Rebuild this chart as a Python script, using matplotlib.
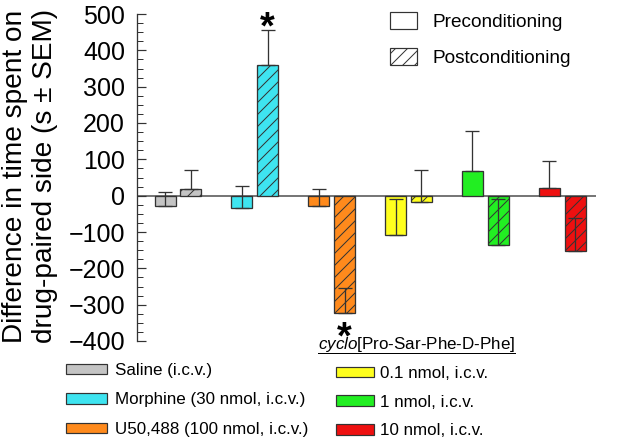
"""Place preference bar chart: pre vs post conditioning per treatment."""

import matplotlib
import matplotlib.pyplot as plt
import numpy as np
from matplotlib.lines import Line2D
from matplotlib.patches import Patch

matplotlib.use("Agg")

plt.rcParams["font.family"] = ["Liberation Sans", "DejaVu Sans"]
plt.rcParams["mathtext.fontset"] = "custom"
plt.rcParams["mathtext.it"] = "Liberation Sans:italic"
plt.rcParams["mathtext.rm"] = "Liberation Sans"
plt.rcParams["hatch.linewidth"] = 1.0

# data
groups = ["Saline (i.c.v.)", "Morphine (30 nmol, i.c.v.)", "U50,488 (100 nmol, i.c.v.)",
          "0.1 nmol, i.c.v.", "1 nmol, i.c.v.", "10 nmol, i.c.v."]
colors = ["#c4c4c4", "#3ee4f0", "#ff8a1c", "#ffff1e", "#22ee22", "#ee1010"]
pre_mean = [-28, -34, -28, -108, 69, 20]
pre_sem = [39, 60, 47, 100, 110, 76]
post_mean = [17, 359, -324, -17, -136, -151]
post_sem = [54, 97, 71, 89, 128, 89]
significant = [False, True, True, False, False, False]  # post vs pre

W, H = 634, 443
fig = plt.figure(figsize=(W / 72, H / 72), dpi=72)
ax = fig.add_axes([137 / W, 1 - 341 / H, (596 - 137) / W, (341 - 14) / H])

edge = "#333333"
x = np.arange(len(groups))
width = 0.273
off = 0.168

ax.bar(x - off, pre_mean, width, color=colors, edgecolor=edge, linewidth=1.3, zorder=2)
ax.bar(x + off, post_mean, width, color=colors, edgecolor=edge, linewidth=1.3,
       hatch="//", zorder=2)

zeros = np.zeros(len(groups))
ax.errorbar(x - off, pre_mean, yerr=[zeros, pre_sem], fmt="none", ecolor=edge,
            elinewidth=1.3, capsize=7, capthick=1.3, zorder=3)
ax.errorbar(x + off, post_mean, yerr=[zeros, post_sem], fmt="none", ecolor=edge,
            elinewidth=1.3, capsize=7, capthick=1.3, zorder=3)

# asterisks for significant postconditioning changes
for xi, m, s, sig in zip(x, post_mean, post_sem, significant):
    if not sig:
        continue
    if m > 0:
        ax.annotate("*", xy=(xi + off, m + s), xytext=(0, -8), textcoords="offset points",
                    ha="center", va="baseline", fontsize=38, fontweight="bold")
    else:
        ax.annotate("*", xy=(xi + off, m), xytext=(0, -35), textcoords="offset points",
                    ha="center", va="baseline", fontsize=38, fontweight="bold",
                    annotation_clip=False)

ax.axhline(0, color="#4a4a4a", linewidth=1.5, zorder=1)
ax.set_xlim(-0.534, 5.44)
ax.set_ylim(-400, 500)
ax.set_yticks(np.arange(-400, 501, 100))
ax.set_yticks(np.arange(-400, 501, 25), minor=True)
ax.set_yticklabels([f"{v:d}".replace("-", "\u2212") for v in range(-400, 501, 100)])
ax.tick_params(axis="y", which="major", direction="in", length=9, width=1.2,
               color=edge, labelsize=25, pad=12)
ax.tick_params(axis="y", which="minor", direction="in", length=6, width=1.0, color=edge)
ax.set_xticks([])
for side in ("top", "right", "bottom"):
    ax.spines[side].set_visible(False)
ax.spines["left"].set_linewidth(1.3)
ax.spines["left"].set_color(edge)

fig.text(30 / W, 1 - 176 / H, "Difference in time spent on\ndrug-paired side (s \u00b1 SEM)",
         fontsize=28, rotation=90, ha="center", va="center", multialignment="center",
         linespacing=1.22)

# condition legend (top right)
cond_handles = [Patch(facecolor="white", edgecolor=edge, linewidth=1.2),
                Patch(facecolor="white", edgecolor=edge, linewidth=1.2, hatch="//")]
fig.legend(cond_handles, ["Preconditioning", "Postconditioning"], loc="upper left",
           bbox_to_anchor=(390 / W, 1 - 12 / H), frameon=False, fontsize=19,
           handlelength=1.42, handleheight=1.0, handletextpad=0.8, labelspacing=0.9,
           borderpad=0, borderaxespad=0)

# treatment legends (bottom)
def treat_handles(idx):
    return [Patch(facecolor=colors[i], edgecolor=edge, linewidth=1.2) for i in idx]

fig.legend(treat_handles([0, 1, 2]), groups[:3], loc="upper left",
           bbox_to_anchor=(66 / W, 1 - 363 / H), frameon=False, fontsize=17,
           handlelength=2.4, handleheight=0.6, handletextpad=0.5, labelspacing=0.85,
           borderpad=0, borderaxespad=0)
fig.legend(treat_handles([3, 4, 5]), groups[3:], loc="upper left",
           bbox_to_anchor=(336 / W, 1 - 366 / H), frameon=False, fontsize=17,
           handlelength=2.25, handleheight=0.6, handletextpad=0.35, labelspacing=0.8,
           borderpad=0, borderaxespad=0)

header = fig.text(318 / W, 1 - 344 / H, r"$\it{cyclo}$[Pro-Sar-Phe-D-Phe]",
                  fontsize=17, ha="left", va="center")
fig.canvas.draw()
bb = header.get_window_extent().transformed(fig.transFigure.inverted())
fig.add_artist(Line2D([bb.x0, bb.x1], [bb.y0 + 1 / H, bb.y0 + 1 / H],
                      color="black", linewidth=1.0, transform=fig.transFigure))

fig.savefig("out.png", dpi=72)
plt.close(fig)
